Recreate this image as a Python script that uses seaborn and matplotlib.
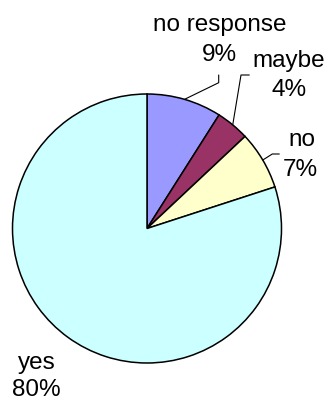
import matplotlib
matplotlib.use("Agg")
import matplotlib.pyplot as plt
import seaborn as sns
import numpy as np

categories = ["no response", "maybe", "no", "yes"]
values = [9, 4, 7, 80]
colors = ["#9999FF", "#993366", "#FFFFCC", "#CCFFFF"]

sns.set_theme(style="white")
plt.rcParams['font.family'] = ['Liberation Sans', 'DejaVu Sans']

W, H = 326, 403
fig = plt.figure(figsize=(W / 100, H / 100), dpi=100)
ax = fig.add_axes([0, 0, 1, 1])


def Y(py):
    return H - py


cx, cy, r = 147, Y(228.5), 134.5
wedges, _ = ax.pie(values, colors=colors, startangle=90, counterclock=False,
                   center=(cx, cy), radius=r, frame=True,
                   wedgeprops=dict(edgecolor="black", linewidth=1.1))
ax.set_xlim(0, W)
ax.set_ylim(0, H)
ax.axis("off")

# label layout (pixel coords from top-left): name line, percent line, leader elbow/end
name_pos = [(219.5, 22), (289, 58), (302, 138), (37, 360)]
pct_pos = [(219.5, 55), (289, 90), (300.5, 170), (36, 390)]
elbows = [((218.7, 82.7), (218.7, 75)),
          ((241, 75), (249.3, 75)),
          ((272.3, 154), (279.3, 154)),
          None]

for w, cat, v, npos, ppos, el in zip(wedges, categories, values, name_pos, pct_pos, elbows):
    ax.text(npos[0], Y(npos[1]), cat, ha="center", va="center_baseline",
            fontsize=17.5, color="black")
    ax.text(ppos[0], Y(ppos[1]), f"{v}%", ha="center", va="center",
            fontsize=17.5, color="black")
    if el is not None:
        ang = np.deg2rad((w.theta1 + w.theta2) / 2)
        x0 = cx + r * np.cos(ang)
        y0 = cy + r * np.sin(ang)
        ax.plot([x0, el[0][0], el[1][0]], [y0, Y(el[0][1]), Y(el[1][1])],
                color="black", linewidth=0.8)

fig.savefig("out.png", dpi=100)
